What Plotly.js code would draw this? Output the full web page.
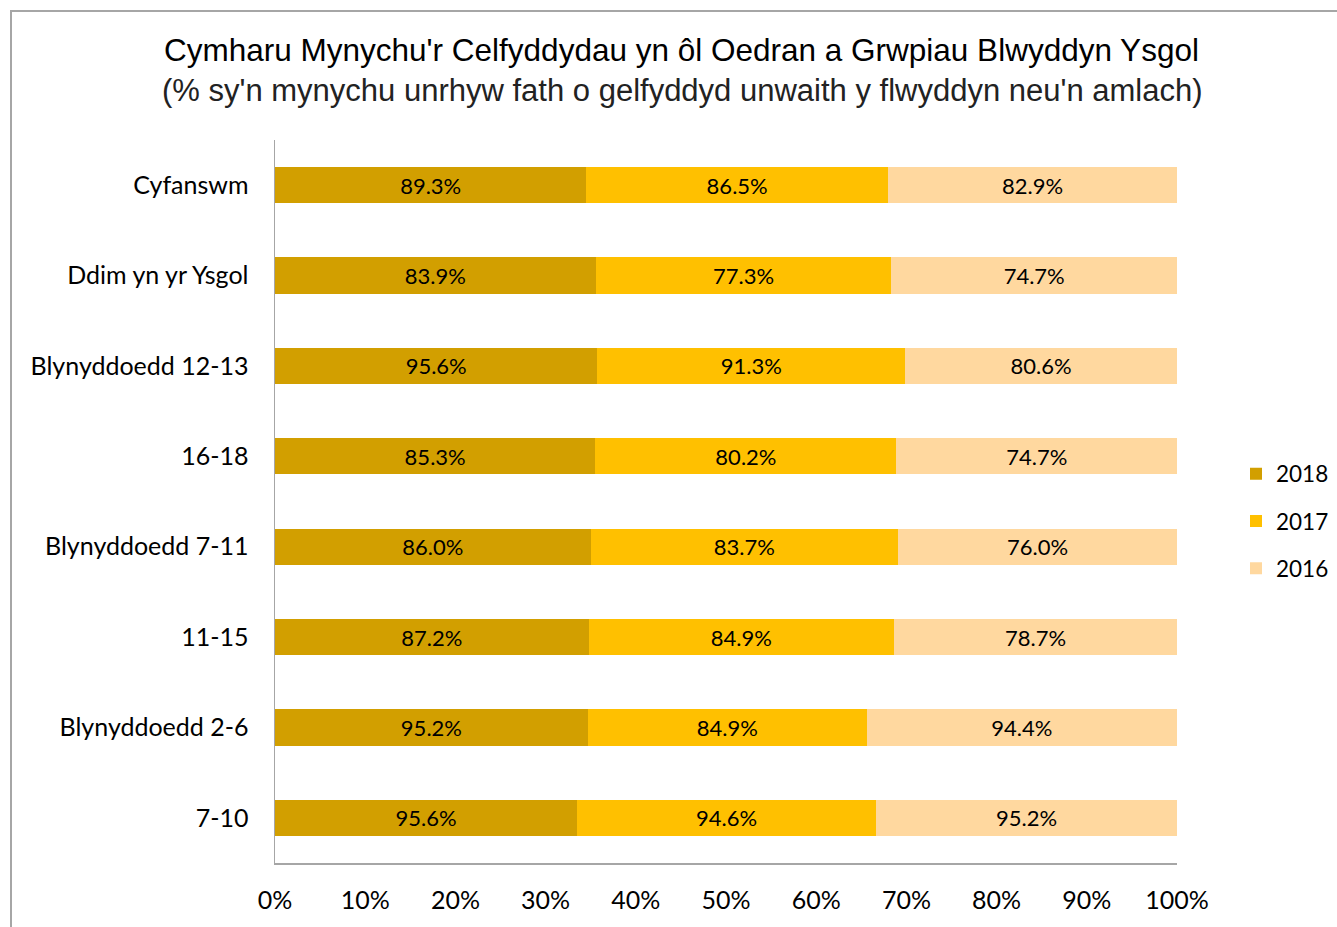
<!DOCTYPE html>
<html><head><meta charset="utf-8">
<script src="https://cdn.plot.ly/plotly-3.0.1.min.js"></script>
<style>
html,body{margin:0;padding:0;background:#fff;}
#frame{position:absolute;left:10px;top:10px;width:1400px;height:1000px;border-left:2px solid #a6a6a6;border-top:2px solid #a6a6a6;}
#chart{position:absolute;left:0;top:0;width:1337px;height:927px;}
</style></head>
<body>
<div id="frame"></div>
<div id="chart"></div>
<script>
const categories = ["Cyfanswm","Ddim yn yr Ysgol","Blynyddoedd 12-13","16-18","Blynyddoedd 7-11","11-15","Blynyddoedd 2-6","7-10"];
const v2018 = [89.3,83.9,95.6,85.3,86.0,87.2,95.2,95.6];
const v2017 = [86.5,77.3,91.3,80.2,83.7,84.9,84.9,94.6];
const v2016 = [82.9,74.7,80.6,74.7,76.0,78.7,94.4,95.2];
const seriesNames = ["2018","2017","2016"];
const colors = ["#D29F00","#FFC000","#FFD89F"];
const tickVals = [0,10,20,30,40,50,60,70,80,90,100];
const tickText = tickVals.map(v => v + "%");

const FONT = "Lato, 'Open Sans', sans-serif";
const all = [v2018, v2017, v2016];
const traces = all.map((vals, i) => ({
  type: "bar",
  orientation: "h",
  name: seriesNames[i],
  legendgroup: "g" + i,
  x: vals,
  y: categories,
  text: vals.map(v => v.toFixed(1) + "%"),
  textposition: "inside",
  insidetextanchor: "middle",
  textangle: 0,
  constraintext: "none",
  textfont: {family: FONT, size: 22, color: "#000"},
  marker: {color: colors[i], line: {width: 0}},
  hoverinfo: "skip"
}));

const layout = {
  width: 1337, height: 927,
  paper_bgcolor: "rgba(0,0,0,0)",
  plot_bgcolor: "rgba(0,0,0,0)",
  margin: {l: 275, r: 160, t: 140, b: 64, autoexpand: false},
  barmode: "stack",
  barnorm: "percent",
  bargap: 0.6,
  showlegend: true,
  legend: {
    xref: "container", x: 1236/1337, xanchor: "left",
    y: (863-521)/723, yanchor: "middle",
    traceorder: "grouped",
    font: {family: FONT, size: 22.5, color: "#000"},
    tracegroupgap: 15, itemwidth: 30
  },
  xaxis: {
    range: [0, 100], tickvals: tickVals, ticktext: tickText,
    showgrid: false, zeroline: false,
    showline: true, linecolor: "#a6a6a6", linewidth: 1.5,
    ticks: "", ticklen: 0,
    ticklabelstandoff: 14,
    tickfont: {family: FONT, size: 25, color: "#000"},
    fixedrange: true
  },
  yaxis: {
    autorange: "reversed", type: "category",
    showgrid: false, zeroline: false,
    showline: true, linecolor: "#a6a6a6", linewidth: 1.5,
    ticks: "", ticklen: 0,
    ticklabelstandoff: 20,
    tickfont: {family: FONT, size: 25, color: "#000"},
    fixedrange: true
  },
  annotations: [
    {text: "Cymharu Mynychu'r Celfyddydau yn ôl Oedran a Grwpiau Blwyddyn Ysgol", xref: "paper", yref: "paper",
     x: (681-275)/902, y: 1 + (140-50)/723, xanchor: "center", yanchor: "middle", showarrow: false,
     font: {family: "'Liberation Sans', Arial, sans-serif", size: 31.5, color: "#000"}},
    {text: "(% sy'n mynychu unrhyw fath o gelfyddyd unwaith y flwyddyn neu'n amlach)", xref: "paper", yref: "paper",
     x: (682-275)/902, y: 1 + (140-90)/723, xanchor: "center", yanchor: "middle", showarrow: false,
     font: {family: "'Liberation Sans', Arial, sans-serif", size: 31, color: "#222"}}
  ]
};

Plotly.newPlot("chart", traces, layout, {displayModeBar: false, staticPlot: true});
</script>
</body></html>
